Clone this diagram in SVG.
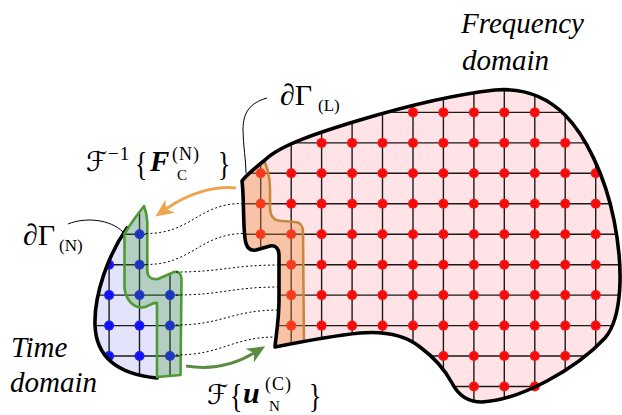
<svg xmlns="http://www.w3.org/2000/svg" xmlns:xlink="http://www.w3.org/1999/xlink" width="622" height="415" viewBox="0 0 622 415">
<style>
.grid{stroke:#1a1a1a;stroke-width:1.4;fill:none}
.outline{fill:none;stroke:#000;stroke-width:3.6;stroke-linejoin:round;stroke-linecap:round}
.dot{stroke:#000;stroke-width:1;stroke-dasharray:2 2.4;fill:none}
.lead{stroke:#000;stroke-width:1;fill:none}
.it{font-family:"Liberation Serif",serif;font-style:italic;font-size:29px;fill:#000}
.rm{font-family:"Liberation Serif",serif;fill:#000}
.bi{font-family:"Liberation Serif",serif;font-style:italic;font-weight:bold;fill:#000}
.cal{font-family:"DejaVu Sans","DejaVu Serif",serif;fill:#000}
</style>
<defs>
<path id="redShape" d="M242,181 C244,195 243,225 245,238 C246,248 250,251 256,250 L270,246 C275,245 279,248 279,255 L279,300 C279,320 276,335 275,347 C300,342 330,336 360,333 C385,331 405,335 420,347 C435,358 445,370 452,383 C458,395 468,402 482,402 C520,400 575,370 605,338 C622,318 624,270 614,220 C605,175 585,135 565,115 C545,95 520,88 495,90 C450,95 400,108 360,120 C320,132 280,145 265,160 C255,168 246,175 242,181 Z"/>
<path id="blueShape" d="M127,228 C108,255 94,295 95,325 C96,355 115,374 157,378 L180,376 L182,278 C181,273 178,271 174,272 L158,279 C150,280 147,276 147,270 L147,222 C146,215 145,210 144,206 C138,212 131,220 127,228 Z"/>
<clipPath id="redClip"><use xlink:href="#redShape"/></clipPath>
<clipPath id="blueClip"><use xlink:href="#blueShape"/></clipPath>
<g id="rd"><circle r="5" fill="#ff1010"/><circle r="2.4" fill="none" stroke="#d80000" stroke-width="0.8"/></g>
<g id="bd"><circle r="5" fill="#1a1aff"/><circle r="2.4" fill="none" stroke="#0000c8" stroke-width="0.8"/></g>
<marker id="headO" viewBox="-6 -9 20 18" markerWidth="20" markerHeight="18" refX="0" refY="0" orient="auto" markerUnits="userSpaceOnUse">
<path d="M13,0 L-5,-8 L0,0 L-5,8 Z" fill="#eea44c"/>
</marker>
<marker id="headG" viewBox="-6 -9 20 18" markerWidth="20" markerHeight="18" refX="0" refY="0" orient="auto" markerUnits="userSpaceOnUse">
<path d="M13,0 L-5,-8 L0,0 L-5,8 Z" fill="#5b8c44"/>
</marker>
</defs>
<rect width="622" height="415" fill="#fff"/>

<g id="frequency-domain">
<use xlink:href="#redShape" fill="#ffe3e6"/>
<g clip-path="url(#redClip)" class="grid">
<path d="M260.7,80V410M291.2,80V410M321.6,80V410M352.1,80V410M382.5,80V410M413,80V410M443.4,80V410M473.9,80V410M504.3,80V410M534.8,80V410M565.2,80V410M595.7,80V410"/>
<path d="M230,112.4H622M230,142.9H622M230,173.3H622M230,203.8H622M230,234.2H622M230,264.7H622M230,295.1H622M230,325.6H622M230,356H622M230,386.5H622"/>
</g>
<g>
<use xlink:href="#rd" x="413" y="112.4"/><use xlink:href="#rd" x="443.4" y="112.4"/><use xlink:href="#rd" x="473.9" y="112.4"/><use xlink:href="#rd" x="504.3" y="112.4"/><use xlink:href="#rd" x="534.8" y="112.4"/>
<use xlink:href="#rd" x="321.6" y="142.9"/><use xlink:href="#rd" x="352.1" y="142.9"/><use xlink:href="#rd" x="382.5" y="142.9"/><use xlink:href="#rd" x="413" y="142.9"/><use xlink:href="#rd" x="443.4" y="142.9"/><use xlink:href="#rd" x="473.9" y="142.9"/><use xlink:href="#rd" x="504.3" y="142.9"/><use xlink:href="#rd" x="534.8" y="142.9"/><use xlink:href="#rd" x="565.2" y="142.9"/>
<use xlink:href="#rd" x="260.7" y="173.3"/><use xlink:href="#rd" x="291.2" y="173.3"/><use xlink:href="#rd" x="321.6" y="173.3"/><use xlink:href="#rd" x="352.1" y="173.3"/><use xlink:href="#rd" x="382.5" y="173.3"/><use xlink:href="#rd" x="413" y="173.3"/><use xlink:href="#rd" x="443.4" y="173.3"/><use xlink:href="#rd" x="473.9" y="173.3"/><use xlink:href="#rd" x="504.3" y="173.3"/><use xlink:href="#rd" x="534.8" y="173.3"/><use xlink:href="#rd" x="565.2" y="173.3"/><use xlink:href="#rd" x="595.7" y="173.3"/>
<use xlink:href="#rd" x="260.7" y="203.8"/><use xlink:href="#rd" x="291.2" y="203.8"/><use xlink:href="#rd" x="321.6" y="203.8"/><use xlink:href="#rd" x="352.1" y="203.8"/><use xlink:href="#rd" x="382.5" y="203.8"/><use xlink:href="#rd" x="413" y="203.8"/><use xlink:href="#rd" x="443.4" y="203.8"/><use xlink:href="#rd" x="473.9" y="203.8"/><use xlink:href="#rd" x="504.3" y="203.8"/><use xlink:href="#rd" x="534.8" y="203.8"/><use xlink:href="#rd" x="565.2" y="203.8"/><use xlink:href="#rd" x="595.7" y="203.8"/>
<use xlink:href="#rd" x="260.7" y="234.2"/><use xlink:href="#rd" x="291.2" y="234.2"/><use xlink:href="#rd" x="321.6" y="234.2"/><use xlink:href="#rd" x="352.1" y="234.2"/><use xlink:href="#rd" x="382.5" y="234.2"/><use xlink:href="#rd" x="413" y="234.2"/><use xlink:href="#rd" x="443.4" y="234.2"/><use xlink:href="#rd" x="473.9" y="234.2"/><use xlink:href="#rd" x="504.3" y="234.2"/><use xlink:href="#rd" x="534.8" y="234.2"/><use xlink:href="#rd" x="565.2" y="234.2"/><use xlink:href="#rd" x="595.7" y="234.2"/>
<use xlink:href="#rd" x="291.2" y="264.7"/><use xlink:href="#rd" x="321.6" y="264.7"/><use xlink:href="#rd" x="352.1" y="264.7"/><use xlink:href="#rd" x="382.5" y="264.7"/><use xlink:href="#rd" x="413" y="264.7"/><use xlink:href="#rd" x="443.4" y="264.7"/><use xlink:href="#rd" x="473.9" y="264.7"/><use xlink:href="#rd" x="504.3" y="264.7"/><use xlink:href="#rd" x="534.8" y="264.7"/><use xlink:href="#rd" x="565.2" y="264.7"/><use xlink:href="#rd" x="595.7" y="264.7"/>
<use xlink:href="#rd" x="291.2" y="295.1"/><use xlink:href="#rd" x="321.6" y="295.1"/><use xlink:href="#rd" x="352.1" y="295.1"/><use xlink:href="#rd" x="382.5" y="295.1"/><use xlink:href="#rd" x="413" y="295.1"/><use xlink:href="#rd" x="443.4" y="295.1"/><use xlink:href="#rd" x="473.9" y="295.1"/><use xlink:href="#rd" x="504.3" y="295.1"/><use xlink:href="#rd" x="534.8" y="295.1"/><use xlink:href="#rd" x="565.2" y="295.1"/><use xlink:href="#rd" x="595.7" y="295.1"/>
<use xlink:href="#rd" x="291.2" y="325.6"/><use xlink:href="#rd" x="321.6" y="325.6"/><use xlink:href="#rd" x="352.1" y="325.6"/><use xlink:href="#rd" x="382.5" y="325.6"/><use xlink:href="#rd" x="413" y="325.6"/><use xlink:href="#rd" x="443.4" y="325.6"/><use xlink:href="#rd" x="473.9" y="325.6"/><use xlink:href="#rd" x="504.3" y="325.6"/><use xlink:href="#rd" x="534.8" y="325.6"/><use xlink:href="#rd" x="565.2" y="325.6"/><use xlink:href="#rd" x="595.7" y="325.6"/>
<use xlink:href="#rd" x="443.4" y="356"/><use xlink:href="#rd" x="473.9" y="356"/><use xlink:href="#rd" x="504.3" y="356"/><use xlink:href="#rd" x="534.8" y="356"/><use xlink:href="#rd" x="565.2" y="356"/>
<use xlink:href="#rd" x="473.9" y="386.5"/><use xlink:href="#rd" x="504.3" y="386.5"/><use xlink:href="#rd" x="534.8" y="386.5"/>
</g>
<g id="overlap-L" clip-path="url(#redClip)">
<path d="M262,157 C267,165 270,175 270,190 L270,207 C270,216 274,221 282,221 L295,222 C300,222 303,226 303,232 L304,350 L230,350 L230,140 Z" fill="#f08c3c" fill-opacity="0.37"/>
<path d="M262,157 C267,165 270,175 270,190 L270,207 C270,216 274,221 282,221 L295,222 C300,222 303,226 303,232 L304,350" fill="none" stroke="#c8883c" stroke-width="2.6"/>
</g>
<use xlink:href="#redShape" class="outline"/>
</g>

<g id="time-domain">
<use xlink:href="#blueShape" fill="#e3e3fb"/>
<g clip-path="url(#blueClip)">
<path class="grid" d="M109.1,200V390M139.5,200V390M170,200V390M80,234.2H190M80,264.7H190M80,295.1H190M80,325.6H190M80,356H190"/>
<use xlink:href="#bd" x="139.5" y="234.2"/>
<use xlink:href="#bd" x="109.1" y="264.7"/><use xlink:href="#bd" x="139.5" y="264.7"/>
<use xlink:href="#bd" x="109.1" y="295.1"/><use xlink:href="#bd" x="139.5" y="295.1"/><use xlink:href="#bd" x="170" y="295.1"/>
<use xlink:href="#bd" x="109.1" y="325.6"/><use xlink:href="#bd" x="139.5" y="325.6"/><use xlink:href="#bd" x="170" y="325.6"/>
<use xlink:href="#bd" x="109.1" y="356"/><use xlink:href="#bd" x="139.5" y="356"/><use xlink:href="#bd" x="170" y="356"/>
</g>
<path d="M127,228 C108,255 94,295 95,325 C96,355 115,374 157,378" class="outline"/>
<path id="overlap-N" d="M144,206 C138,214 130,224 124.5,234 L124.5,288 C126,300 133,307 141,307.5 C148,308 151,302 157,303 L157,377 L180.5,375 L181.5,279 C181,273 178,271 174,272 L158,279 C150,280 147.3,276 147.3,270 L147.3,222 C147,215 145.5,210 144,206 Z" fill="#3c9628" fill-opacity="0.27" stroke="#4e9a34" stroke-width="2.6" stroke-linejoin="round"/>
</g>

<g id="connectors">
<path class="dot" d="M146,233.5 C192,233.5 198,203.5 242.5,203.5"/>
<path class="dot" d="M146,264.5 C192,264.5 200,233.5 244.5,233.5"/>
<path class="dot" d="M176,272 C222,272 232,265 278.5,265"/>
<path class="dot" d="M176,295 C222,295 232,287 279,287"/>
<path class="dot" d="M176,325 C222,325 232,310 279,310"/>
<path class="dot" d="M176,355 C222,355 232,337 276,337"/>
<path d="M236,188 C216,186 190,192 166,209" fill="none" stroke="#eea44c" stroke-width="3" marker-end="url(#headO)"/>
<path d="M186,366 C210,370 234,365 254,353" fill="none" stroke="#5b8c44" stroke-width="3" marker-end="url(#headG)"/>
<path class="lead" d="M267,98 C250,103 243,112 243,130 C243,145 246,160 246,173"/>
<path class="lead" d="M68,224 C85,217 110,219 123,232"/>
</g>

<g id="labels">
<text class="it" x="461" y="33">Frequency</text>
<text class="it" x="462" y="70">domain</text>
<text class="it" x="11" y="357">Time</text>
<text class="it" x="10" y="392">domain</text>
<text class="rm" x="280" y="105" font-size="30">∂Γ</text>
<text class="rm" x="318" y="111" font-size="17">(L)</text>
<text class="rm" x="23" y="245" font-size="30">∂Γ</text>
<text class="rm" x="59" y="251" font-size="17">(N)</text>
<text class="cal" x="86" y="171" font-size="27">ℱ</text>
<text class="rm" x="108" y="160" font-size="19" letter-spacing="1">−1</text>
<text class="rm" font-size="34" transform="translate(135,175) scale(0.75,1)">{</text>
<text class="bi" x="150" y="171" font-size="29">F</text>
<text class="rm" x="172" y="160" font-size="18" letter-spacing="1">(N)</text>
<text class="rm" x="177" y="180" font-size="15">C</text>
<text class="rm" font-size="34" transform="translate(218,175) scale(0.75,1)">}</text>
<text class="cal" x="207" y="404" font-size="27">ℱ</text>
<text class="rm" font-size="34" transform="translate(230,407) scale(0.75,1)">{</text>
<text class="bi" x="243" y="403" font-size="30">u</text>
<text class="rm" x="265" y="390" font-size="18" letter-spacing="1">(C)</text>
<text class="rm" x="269" y="411" font-size="15">N</text>
<text class="rm" font-size="34" transform="translate(309,407) scale(0.75,1)">}</text>
</g>
</svg>
